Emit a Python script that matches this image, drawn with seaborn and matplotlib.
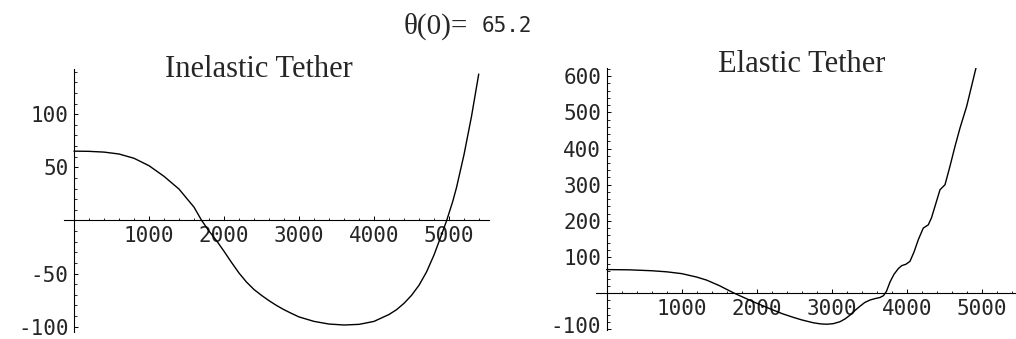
import matplotlib
matplotlib.use("Agg")
import matplotlib.pyplot as plt
from matplotlib.ticker import MultipleLocator, FixedLocator
from matplotlib.transforms import ScaledTranslation
import seaborn as sns

# values
theta0 = 65.2

inelastic_t = [0, 200, 400, 600, 800, 1000, 1200, 1400, 1600, 1702, 1800,
               1900, 2000, 2100, 2200, 2300, 2400, 2500, 2600, 2700, 2800,
               2900, 3000, 3200, 3400, 3600, 3800, 4000, 4200, 4300, 4400,
               4500, 4600, 4700, 4800, 4900, 4969, 5050, 5100, 5200, 5300,
               5396]
inelastic_theta = [65.2, 65.0, 64.3, 62.5, 58.5, 51.5, 41.5, 29.5, 12.5, 0,
                   -10, -19, -29, -39.5, -49.5, -58, -65, -70.5, -75.5, -80,
                   -84, -87.5, -90.8, -95, -97.5, -98.4, -97.8, -95, -88.5,
                   -84, -78, -70.5, -61, -48.5, -32.5, -13.5, 0, 18, 31, 62,
                   98, 137.7]

elastic_t = [0, 300, 600, 800, 1000, 1200, 1333, 1500, 1689, 1800, 1956,
             2100, 2222, 2350, 2489, 2600, 2756, 2850, 2933, 3020, 3111,
             3180, 3244, 3310, 3378, 3440, 3511, 3580, 3644, 3690, 3730,
             3778, 3830, 3889, 3933, 3990, 4044, 4100, 4155, 4221, 4288,
             4330, 4377, 4444, 4511, 4577, 4644, 4711, 4800, 4924]
elastic_theta = [65.2, 64.5, 62, 59, 54, 44.5, 36, 21, 1, -9.5, -24, -36.5,
                 -47, -57.5, -67, -74, -82, -85, -86, -84.5, -79, -71, -61,
                 -48, -36, -26, -19, -15, -12, -7, 5, 31, 52, 68, 76, 80, 88,
                 115, 148, 180, 189, 208, 240, 286, 300, 351, 406, 457, 517,
                 623]

left_yticks = [-100, -50, 50, 100]
right_yticks = [-100, 100, 200, 300, 400, 500, 600]
xticks = [1000, 2000, 3000, 4000, 5000]

sns.set_style("white")
plt.rcParams["axes.unicode_minus"] = False
mono = "DejaVu Sans Mono"
serif = "Liberation Serif"

fig = plt.figure(figsize=(10.16, 3.39), dpi=100)
ax1 = fig.add_axes([0.0630, 0.0206, 0.4183, 0.7759])
ax2 = fig.add_axes([0.5866, 0.0265, 0.4124, 0.7720])


def mathematica_axes(ax, yticks, ymin, ymax, yminor, xmin, xmax):
    for s in ["top", "right"]:
        ax.spines[s].set_visible(False)
    ax.spines["left"].set_position(("data", 0))
    ax.spines["bottom"].set_position(("data", 0))
    for s in ["left", "bottom"]:
        ax.spines[s].set_linewidth(0.8)
        ax.spines[s].set_color("black")
    ax.set_xlim(xmin, xmax)
    ax.set_ylim(ymin, ymax)
    ax.xaxis.set_major_locator(FixedLocator(xticks))
    ax.xaxis.set_minor_locator(MultipleLocator(200))
    ax.yaxis.set_major_locator(FixedLocator(yticks))
    ax.yaxis.set_minor_locator(MultipleLocator(yminor))
    ax.tick_params(axis="both", which="both", bottom=True, left=True,
                   top=False, right=False, direction="in", color="black")
    ax.tick_params(axis="both", which="major", length=3.2, width=0.7,
                   labelsize=15)
    ax.tick_params(axis="both", which="minor", length=1.8, width=0.6)
    ax.tick_params(axis="x", which="major", pad=4)
    ax.tick_params(axis="y", which="major", pad=4)
    for lab in ax.get_xticklabels() + ax.get_yticklabels():
        lab.set_fontfamily(mono)
    ax.set_xlabel("")
    ax.set_ylabel("")
    ax.grid(False)


sns.lineplot(x=inelastic_t, y=inelastic_theta, ax=ax1, color="black",
             linewidth=1.0, estimator=None)
mathematica_axes(ax1, left_yticks, -105, 142.5, 10, -133, 5533)

sns.lineplot(x=elastic_t, y=elastic_theta, ax=ax2, color="black",
             linewidth=1.0, estimator=None)
mathematica_axes(ax2, right_yticks, -102, 622, 20, -143, 5444)

# the lowest label on the right sits a little higher so it stays inside
low_tick = ax2.yaxis.get_major_ticks()[0]
low_tick.label1.set_transform(low_tick.label1.get_transform()
                              + ScaledTranslation(0, 4 / 100,
                                                  fig.dpi_scale_trans))

fig.text(259 / 1016, 1 - 77 / 339, "Inelastic Tether", ha="center",
         va="baseline", fontsize=22, family=serif)
fig.text(802 / 1016, 1 - 72 / 339, "Elastic Tether", ha="center",
         va="baseline", fontsize=22, family=serif)

fig.text(468 / 1016, 1 - 34 / 339, "θ(0)=", ha="right", va="baseline",
         fontsize=21, family=serif)
fig.text(482 / 1016, 1 - 32 / 339, f"{theta0}", ha="left", va="baseline",
         fontsize=15, family=mono)

fig.savefig("out.png", dpi=100)
